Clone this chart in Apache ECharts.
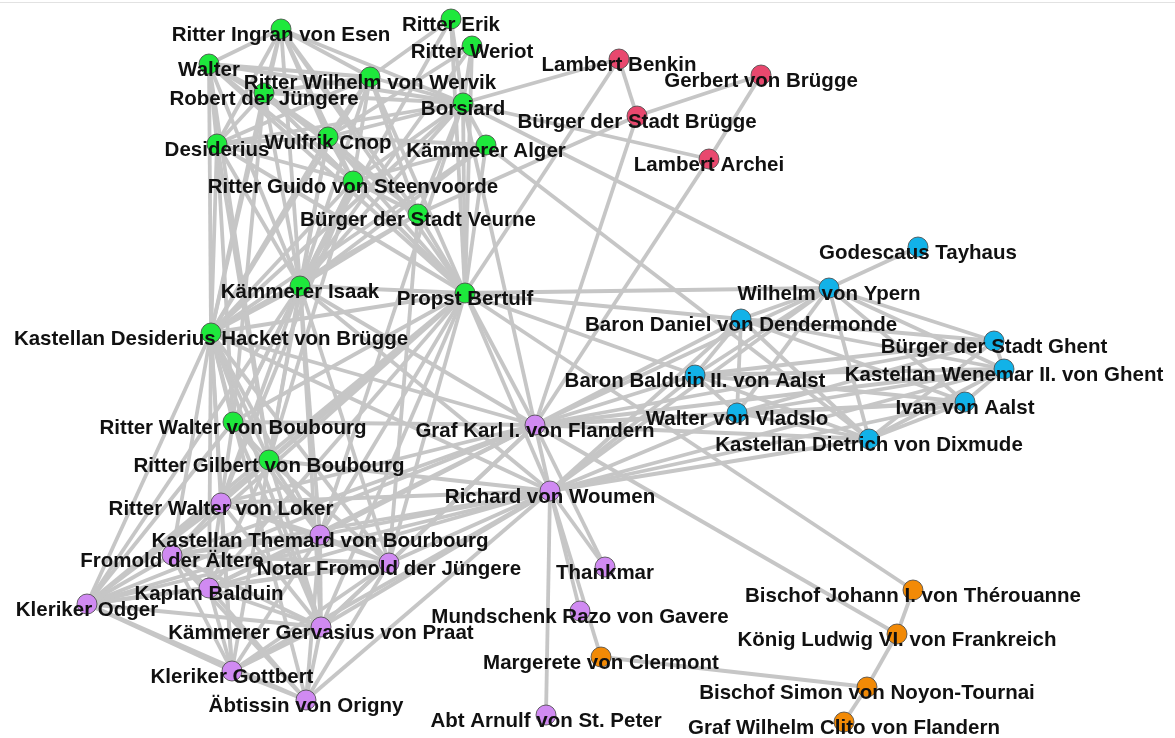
<!DOCTYPE html>
<html>
<head>
<meta charset="utf-8">
<script src="https://cdn.jsdelivr.net/npm/echarts@6/dist/echarts.min.js"></script>
<style>
html,body{margin:0;padding:0;background:#fff;}
#main{width:1175px;height:738px;}
</style>
</head>
<body>
<div id="main"></div>
<script>
// Personen (Knoten) und Gruppe
var names = [
  'Ritter Ingran von Esen','Ritter Erik','Ritter Weriot','Walter','Ritter Wilhelm von Wervik',
  'Robert der Jüngere','Borsiard','Desiderius','Wulfrik Cnop','Kämmerer Alger',
  'Ritter Guido von Steenvoorde','Bürger der Stadt Veurne','Kämmerer Isaak','Propst Bertulf',
  'Kastellan Desiderius Hacket von Brügge','Ritter Walter von Boubourg','Ritter Gilbert von Boubourg',
  'Lambert Benkin','Gerbert von Brügge','Bürger der Stadt Brügge','Lambert Archei',
  'Godescaus Tayhaus','Wilhelm von Ypern','Baron Daniel von Dendermonde','Bürger der Stadt Ghent',
  'Kastellan Wenemar II. von Ghent','Baron Balduin II. von Aalst','Ivan von Aalst','Walter von Vladslo',
  'Kastellan Dietrich von Dixmude',
  'Graf Karl I. von Flandern','Richard von Woumen','Ritter Walter von Loker','Kastellan Themard von Bourbourg',
  'Fromold der Ältere','Notar Fromold der Jüngere','Thankmar','Kaplan Balduin','Kleriker Odger',
  'Mundschenk Razo von Gavere','Kämmerer Gervasius von Praat','Kleriker Gottbert','Äbtissin von Origny',
  'Abt Arnulf von St. Peter',
  'Bischof Johann I. von Thérouanne','König Ludwig VI. von Frankreich','Margerete von Clermont',
  'Bischof Simon von Noyon-Tournai','Graf Wilhelm Clito von Flandern'
];
var groups = [
  0,0,0,0,0,0,0,0,0,0,0,0,0,0,0,0,0,
  1,1,1,1,
  2,2,2,2,2,2,2,2,2,
  3,3,3,3,3,3,3,3,3,3,3,3,3,3,
  4,4,4,4,4
];
// Layout-Position aus dem Bild
var posX = [281,451,472,209,370,264,463,217,328,486,353,418,300,465,211,233,269,
  619,761,637,709,
  918,829,741,994,1004,695,965,737,869,
  535,550,221,320,172,389,605,209,87,580,321,232,306,546,
  913,897,601,867,844];
var posY = [29,19,46,64,77,93,103,144,137,145,181,214,286,293,333,422,460,
  59,75,116,159,
  247,288,319,341,369,375,402,413,439,
  425,491,503,535,555,563,567,588,604,611,627,671,700,715,
  590,634,657,687,722];
var groupColors = ['#1ee83c','#e8486e','#12b2e8','#d08af2','#f28a06'];

// Beziehungen: Knoten -> Liste der Partner
var links = {
  0: [3,4,5,6,7,8,10,11,12,13,14],
  1: [6,13,4,12],
  2: [6,13,8,12],
  3: [4,5,6,7,8,10,12,13,14,16],
  4: [5,6,7,8,10,11,12,13,14],
  5: [6,7,8,10,11,12,13,14,15],
  6: [7,8,9,10,11,12,13,14,17,20,22,30,33],
  7: [8,10,12,13,14,15,16],
  8: [9,10,11,12,13,14,16],
  9: [10,12,13,14,29],
  10: [11,12,13,14,15,16,32],
  11: [12,13,14,19,35],
  12: [13,14,15,16,32,33,35,40,30,38,31],
  13: [14,15,16,17,22,23,26,30,31,32,33,35,37,40,44,34,38],
  14: [15,16,32,33,34,35,37,38,40,41,42,30,31],
  15: [16,32,33,38,40,30],
  16: [32,33,35,37,38,40,41,31],
  17: [19],
  18: [19,20],
  19: [30],
  20: [30],
  21: [22],
  22: [23,24,25,26,27,28,29,30,31],
  23: [24,25,26,27,28,29,30,31],
  24: [25,26,28,29,30],
  25: [26,27,28,29,30,31],
  26: [27,28,29,30,31],
  27: [28,29,30,31],
  28: [29,30,31],
  29: [30,31],
  30: [31,32,33,34,35,36,37,38,40,45],
  31: [32,33,34,35,36,37,38,39,40,41,42,43,46],
  32: [33,34,35,37,38,40,41],
  33: [34,35,37,38,40,41,42],
  34: [35,37,38,40,41,42],
  35: [37,38,40,41,42],
  37: [38,40,41,42],
  38: [40,41,42],
  40: [41,42],
  41: [42],
  44: [45],
  45: [47],
  46: [47],
  47: [48]
};

var nodes = names.map(function (n, i) {
  return {
    name: n,
    x: posX[i],
    y: posY[i],
    category: groups[i],
    itemStyle: { color: groupColors[groups[i]] }
  };
});
var edges = [];
for (var [k, list] of Object.entries(links)) {
  list.forEach(function (t) {
    edges.push({ source: names[parseInt(k)], target: names[t] });
  });
}

var chart = echarts.init(document.getElementById('main'));
chart.setOption({
  backgroundColor: '#fff',
  animation: false,
  graphic: [{
    type: 'rect',
    shape: { x: 0, y: 2, width: 1175, height: 1 },
    style: { fill: '#e2e2e2' }
  }],
  series: [{
    type: 'graph',
    layout: 'none',
    left: 87, top: 19, width: 917, height: 703,
    roam: false,
    symbolSize: 20,
    categories: groupColors.map(function (c, i) { return { name: 'g' + i }; }),
    data: nodes,
    links: edges,
    itemStyle: { borderColor: '#444', borderWidth: 0.8 },
    lineStyle: { color: '#c6c6c6', width: 3.8, opacity: 1, curveness: 0 },
    label: {
      show: true,
      position: 'inside',
      offset: [0, 6],
      color: '#111',
      fontFamily: 'Liberation Sans',
      fontWeight: 'bold',
      fontSize: 20.5
    },
    emphasis: { disabled: true }
  }]
});
</script>
</body>
</html>
